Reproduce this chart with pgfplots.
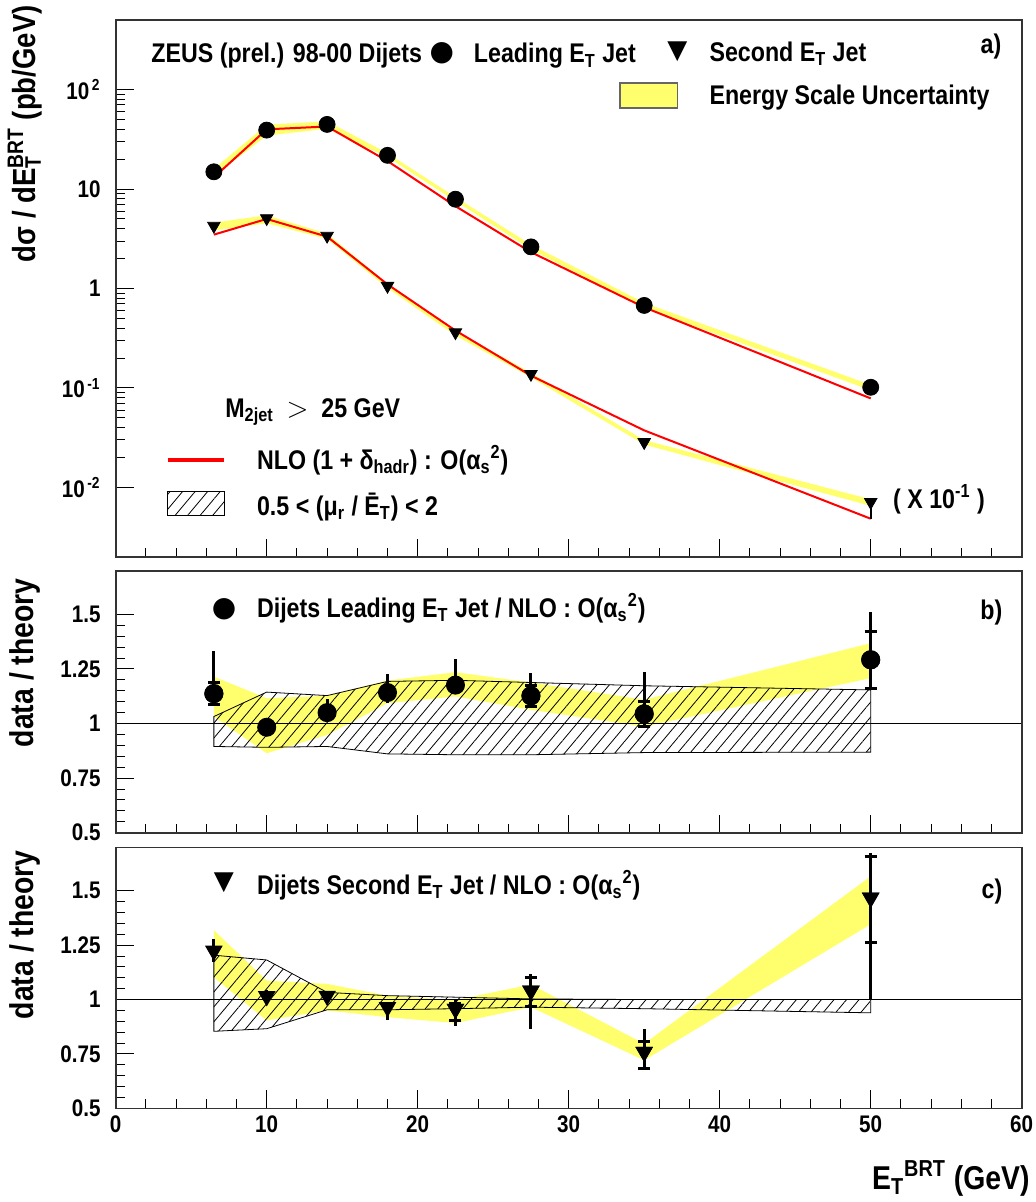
\documentclass[border=0pt]{standalone}
\usepackage{fontspec}
\setmainfont{Liberation Sans}[FakeStretch=0.86]
\newfontfamily\symfont{DejaVu Sans}
\usepackage{pgfplots}
\pgfplotsset{compat=1.18}
\usetikzlibrary{patterns.meta}

\definecolor{band}{RGB}{255,255,110}
\newcommand{\ET}{E\rlap{\textsubscript{T}}\textsuperscript{BRT}}
\newcommand{\txt}{\fontsize{13.5}{15}\selectfont\bfseries}

\tikzset{
  hatch/.style={draw=black, line width=0.4pt,
    pattern={Lines[angle=50, distance=4.8pt, line width=0.4pt]}},
  ybandstyle/.style={fill=band, draw=none},
}
\pgfplotsset{
  zeus/.style={
    scale only axis, width=453pt,
    xmin=0, xmax=60, xtick={0,10,...,60}, minor x tick num=4,
    tick align=inside, xtick pos=bottom, ytick pos=left,
    major tick length=9pt, minor tick length=4.5pt,
    tick style={black, line width=0.5pt},
    axis line style={line width=0.8pt, black!80},
    ticklabel style={font=\fontsize{12}{12}\selectfont\bfseries},
    /pgf/number format/assume math mode=true,
    yticklabel style={xshift=-4pt},
    axis on top,
  },
  ebar/.style={black, only marks, line width=1.5pt,
    error bars/y dir=both, error bars/y explicit,
    error bars/error bar style={line width=1.5pt}},
  capped/.style={error bars/error mark=|,
    error bars/error mark options={line width=1.5pt, mark size=3pt}},
  nocap/.style={error bars/error mark=none},
}

\begin{document}
\begin{tikzpicture}
\useasboundingbox (0,0) rectangle (518pt,-601pt);

% ---- a) cross sections
\begin{axis}[zeus, at={(57.85pt,-278.5pt)}, anchor=south west, height=268.5pt,
  ymode=log, ymin=0.002, ymax=500,
  ytick={0.01,0.1,1,10,100},
  yticklabels={10\textsuperscript{\,-2},10\textsuperscript{\,-1},1,10,10\textsuperscript{\,2}},
  xticklabels={}]
\addplot[ybandstyle] coordinates {(6.5,15.9) (10,44.4) (14,47.9) (18,22.9) (22.5,8.30) (27.5,2.76) (35,0.718) (50,0.1075)
  (50,0.0949) (35,0.638) (27.5,2.47) (22.5,7.55) (18,20.9) (14,40.3) (10,34.4) (6.5,13.5)} -- cycle;
\addplot[ybandstyle] coordinates {(6.5,4.59) (10,5.44) (14,3.56) (18,1.12) (22.5,0.377) (27.5,0.142) (35,0.0299) (50,0.0076)
  (50,0.00653) (35,0.0270) (27.5,0.128) (22.5,0.337) (18,1.011) (14,3.15) (10,4.52) (6.5,3.83)} -- cycle;
\addplot[red, line width=1pt] coordinates {(6.5,13.1) (10,39.8) (14,42.5) (18,19.1) (22.5,6.72) (27.5,2.32) (35,0.647) (50,0.0786)};
\addplot[red, line width=1pt] coordinates {(6.5,3.48) (10,5.0) (14,3.32) (18,1.10) (22.5,0.378) (27.5,0.133) (35,0.0375) (50,0.00485)};
\addplot[black, only marks, mark=*, mark size=4pt] coordinates {(6.5,14.9) (10,39.1) (14,44.6) (18,21.8) (22.5,7.9) (27.5,2.62) (35,0.676) (50,0.1016)};
\addplot[black, only marks, mark=triangle*, mark size=3.6pt, mark options={rotate=180},
  error bars/y dir=both, error bars/y explicit, nocap, error bars/error bar style={line width=0.8pt}]
  coordinates {(6.5,4.26) (10,5.08) (14,3.38) (18,1.06) (22.5,0.362) (27.5,0.138) (35,0.0285) (50,0.00713) -= (0,0.00235)};
% legend
\node[anchor=base west, inner sep=0] at (rel axis cs:0.039,0.9205) {\txt ZEUS (prel.) 98-00 Dijets};
\node[inner sep=0] at (rel axis cs:0.360,0.938) {\symfont\fontsize{14}{14}\selectfont ●};
\node[anchor=base west, inner sep=0] at (rel axis cs:0.395,0.9205) {\txt Leading E\textsubscript{T} Jet};
\node[inner sep=0] at (rel axis cs:0.620,0.940) {\symfont\fontsize{13}{13}\selectfont ▼};
\node[anchor=base west, inner sep=0] at (rel axis cs:0.655,0.9224) {\txt Second E\textsubscript{T} Jet};
\node[anchor=base east, inner sep=0] at (rel axis cs:0.978,0.9385) {\txt a)};
\draw[fill=band, draw=black!60, line width=0.6pt] (rel axis cs:0.5566,0.8361) rectangle (rel axis cs:0.6204,0.8827);
\node[anchor=base west, inner sep=0] at (rel axis cs:0.655,0.8417) {\txt Energy Scale Uncertainty};
\node[anchor=base west, inner sep=0] at (rel axis cs:0.1206,0.260) {\txt M\textsubscript{2jet} \ $>$\ \ 25 GeV};
\draw[red, line width=2pt] (rel axis cs:0.0574,0.181) -- (rel axis cs:0.1196,0.181);
\node[anchor=base west, inner sep=0] at (rel axis cs:0.1556,0.1633) {\txt NLO (1 + δ\textsubscript{hadr}) : O(α\textsubscript{s}\textsuperscript{2})};
\draw[hatch] (rel axis cs:0.0574,0.0769) rectangle (rel axis cs:0.1196,0.1229);
\node[anchor=base west, inner sep=0] at (rel axis cs:0.1556,0.0782) {\txt 0.5 < (μ\textsubscript{r} / Ē\textsubscript{T}) < 2};
\node[anchor=base west, inner sep=0] at (rel axis cs:0.8577,0.0907) {\txt ( X 10\textsuperscript{-1} )};
\end{axis}

% ---- b) leading jet ratio
\begin{axis}[zeus, at={(57.85pt,-416.35pt)}, anchor=south west, height=131pt,
  ymin=0.5, ymax=1.7, ytick={0.5,0.75,1,1.25,1.5}, minor y tick num=4,
  yticklabels={0.5,0.75,1,1.25,1.5}, xticklabels={}]
\addplot[ybandstyle] coordinates {(6.5,1.215) (10,1.116) (14,1.127) (18,1.197) (22.5,1.235) (27.5,1.188) (35,1.109) (50,1.368)
  (50,1.208) (35,0.986) (27.5,1.063) (22.5,1.124) (18,1.093) (14,0.948) (10,0.864) (6.5,1.032)} -- cycle;
\addplot[hatch] coordinates {(6.5,1.032) (10,1.144) (14,1.128) (18,1.193) (22.5,1.198) (27.5,1.188) (35,1.173) (50,1.154)
  (50,0.869) (35,0.867) (27.5,0.857) (22.5,0.857) (18,0.861) (14,0.895) (10,0.891) (6.5,0.895)} -- cycle;
\addplot[black, line width=0.6pt] coordinates {(0,1) (60,1)};
\addplot[ebar, nocap, mark=*, mark size=4pt] coordinates {
  (6.5,1.137) += (0,0.196) -= (0,0.05)
  (10,0.983) +- (0,0.015)
  (14,1.050) += (0,0.062) -= (0,0.033)
  (18,1.142) += (0,0.084) -= (0,0.049)
  (22.5,1.176) += (0,0.119) -= (0,0.03)
  (27.5,1.127) += (0,0.104) -= (0,0.049)
  (35,1.044) += (0,0.19) -= (0,0.058)
  (50,1.292) += (0,0.221) -= (0,0.13)};
\addplot[ebar, capped, mark=*, mark size=4pt] coordinates {
  (6.5,1.137) += (0,0.051) -= (0,0.05)
  (27.5,1.127) += (0,0.046) -= (0,0.049)
  (35,1.044) += (0,0.057) -= (0,0.058)
  (50,1.292) += (0,0.129) -= (0,0.13)};
\node[inner sep=0] at (rel axis cs:0.1195,0.854) {\symfont\fontsize{14}{14}\selectfont ●};
\node[anchor=base west, inner sep=0] at (rel axis cs:0.1556,0.822) {\txt Dijets Leading E\textsubscript{T} Jet / NLO : O(α\textsubscript{s}\textsuperscript{2})};
\node[anchor=base east, inner sep=0] at (rel axis cs:0.979,0.812) {\txt b)};
\end{axis}

% ---- c) second jet ratio
\begin{axis}[zeus, at={(57.85pt,-554.15pt)}, anchor=south west, height=130.5pt,
  ymin=0.5, ymax=1.7, ytick={0.5,0.75,1,1.25,1.5}, minor y tick num=4,
  yticklabels={0.5,0.75,1,1.25,1.5}]
\addplot[ybandstyle] coordinates {(6.5,1.319) (10,1.087) (14,1.072) (18,1.018) (22.5,0.998) (27.5,1.069) (35,0.797) (50,1.567)
  (50,1.346) (35,0.721) (27.5,0.965) (22.5,0.892) (18,0.919) (14,0.950) (10,0.904) (6.5,1.102)} -- cycle;
\addplot[hatch] coordinates {(6.5,1.204) (10,1.182) (14,1.033) (18,1.018) (22.5,1.011) (27.5,1.003) (35,1.0) (50,1.0)
  (50,0.939) (35,0.958) (27.5,0.965) (22.5,0.958) (18,0.953) (14,0.953) (10,0.866) (6.5,0.854)} -- cycle;
\addplot[black, line width=0.6pt] coordinates {(0,1) (60,1)};
\addplot[ebar, nocap, mark=triangle*, mark size=3.6pt, mark options={rotate=180}] coordinates {
  (6.5,1.224) += (0,0.054) -= (0,0.053)
  (10,1.015) +- (0,0.03)
  (14,1.017) +- (0,0.02)
  (18,0.965) += (0,0.025) -= (0,0.061)
  (22.5,0.957) += (0,0.047) -= (0,0.078)
  (27.5,1.041) += (0,0.076) -= (0,0.178)
  (35,0.759) += (0,0.104) -= (0,0.076)
  (50,1.468) += (0,0.206) -= (0,0.465)};
\addplot[ebar, capped, mark=triangle*, mark size=3.6pt, mark options={rotate=180}] coordinates {
  (22.5,0.957) += (0,0.023) -= (0,0.053)
  (27.5,1.041) += (0,0.061) -= (0,0.072)
  (35,0.759) += (0,0.049) -= (0,0.076)
  (50,1.468) += (0,0.191) -= (0,0.206)};
\node[inner sep=0] at (rel axis cs:0.1195,0.863) {\symfont\fontsize{13}{13}\selectfont ▼};
\node[anchor=base west, inner sep=0] at (rel axis cs:0.1556,0.821) {\txt Dijets Second E\textsubscript{T} Jet / NLO : O(α\textsubscript{s}\textsuperscript{2})};
\node[anchor=base east, inner sep=0] at (rel axis cs:0.979,0.8046) {\txt c)};
\end{axis}

% axis titles
\node[rotate=90, anchor=east, inner sep=0] at (12.5pt,-2.5pt) {\fontsize{16}{16}\selectfont\bfseries dσ / d\ET\ (pb/GeV)};
\node[rotate=90, anchor=east, inner sep=0] at (12.5pt,-289pt) {\fontsize{16.5}{16}\selectfont\bfseries data / theory};
\node[rotate=90, anchor=east, inner sep=0] at (12.5pt,-425pt) {\fontsize{16.5}{16}\selectfont\bfseries data / theory};
\node[anchor=base east, inner sep=0] at (515pt,-594.5pt) {\fontsize{16.5}{16}\selectfont\bfseries E\textsubscript{T}\textsuperscript{BRT} (GeV)};
\end{tikzpicture}
\end{document}
